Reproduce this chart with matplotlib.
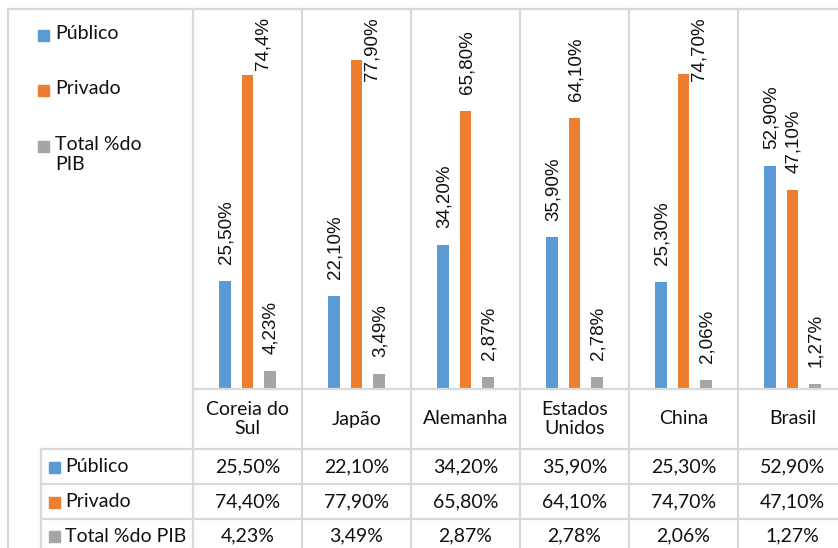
import numpy as np
import matplotlib.pyplot as plt
from matplotlib.patches import Rectangle
from matplotlib.lines import Line2D

paises = ['Coreia do\nSul', 'Japão', 'Alemanha', 'Estados\nUnidos', 'China', 'Brasil']
publico = [25.50, 22.10, 34.20, 35.90, 25.30, 52.90]
privado = [74.40, 77.90, 65.80, 64.10, 74.70, 47.10]
total_pib = [4.23, 3.49, 2.87, 2.78, 2.06, 1.27]

# rotulos como aparecem no grafico (Coreia privado aparece sem o zero)
rot_publico = ['25,50%', '22,10%', '34,20%', '35,90%', '25,30%', '52,90%']
rot_privado = ['74,4%', '77,90%', '65,80%', '64,10%', '74,70%', '47,10%']
rot_total = ['4,23%', '3,49%', '2,87%', '2,78%', '2,06%', '1,27%']

tab_publico = ['25,50%', '22,10%', '34,20%', '35,90%', '25,30%', '52,90%']
tab_privado = ['74,40%', '77,90%', '65,80%', '64,10%', '74,70%', '47,10%']
tab_total = ['4,23%', '3,49%', '2,87%', '2,78%', '2,06%', '1,27%']

series = ['Público', 'Privado', 'Total %do PIB']
cores = ['#5B9BD5', '#ED7D31', '#A5A5A5']

W, H = 838, 548
grid_col = '#D9D9D9'
txt_col = '#111111'
font_tab = 'Lato'
font_lbl = 'Liberation Sans'
fs_tab = 14


def fx(px):
    return px / W


def fy(py):
    return 1 - py / H


fig = plt.figure(figsize=(W / 100, H / 100), dpi=100)
ax = fig.add_axes([fx(193), fy(389), fx(838) - fx(193), fy(9) - fy(389)])

x = np.arange(len(paises))
step = 0.206
bw = 0.11
ymax = 90
ax.set_xlim(-0.5, -0.5 + (838 - 193) / 109)
ax.set_ylim(0, ymax)
ax.axis('off')

for k, (vals, rots) in enumerate([(publico, rot_publico), (privado, rot_privado), (total_pib, rot_total)]):
    pos = x + (k - 1) * step
    ax.bar(pos, vals, bw, color=cores[k], zorder=3)
    for xi, v, r in zip(pos, vals, rots):
        if v + 4 + 15.5 > ymax:
            ax.text(xi + 0.14, ymax - 2, r, rotation=90, ha='center', va='top',
                    fontsize=13.5, family=font_lbl, color=txt_col, zorder=4)
        else:
            ax.text(xi + 0.01, v + 4, r, rotation=90, ha='center', va='bottom',
                    fontsize=13.5, family=font_lbl, color=txt_col, zorder=4)

# linhas de grade verticais (limites de categoria) e tabela
for b in np.arange(len(paises) + 1) - 0.5:
    px = 193 + (b + 0.5) * 109
    fig.add_artist(Line2D([fx(px), fx(px)], [fy(9), fy(548)], color=grid_col, lw=1.6))

# moldura externa
fig.add_artist(Line2D([fx(8), fx(838)], [fy(9), fy(9)], color=grid_col, lw=1.6))
fig.add_artist(Line2D([fx(8), fx(8)], [fy(9), fy(548)], color=grid_col, lw=1.6))

# linhas horizontais da tabela
fig.add_artist(Line2D([fx(193), fx(838)], [fy(389), fy(389)], color=grid_col, lw=1.6))
for py in [449, 484, 519]:
    fig.add_artist(Line2D([fx(41), fx(838)], [fy(py), fy(py)], color=grid_col, lw=1.6))
fig.add_artist(Line2D([fx(41), fx(41)], [fy(449), fy(548)], color=grid_col, lw=1.6))

# rotulos de categoria
for i, p in enumerate(paises):
    cx = 193 + (i + 0.5) * 109
    fig.text(fx(cx), fy(419), p, ha='center', va='center', fontsize=fs_tab,
             family=font_tab, color=txt_col, linespacing=1.15)

# linhas de valores da tabela
row_y = [466.5, 501.5, 536]
for k, vals in enumerate([tab_publico, tab_privado, tab_total]):
    for i, v in enumerate(vals):
        cx = 193 + (i + 0.5) * 109
        fig.text(fx(cx), fy(row_y[k]), v, ha='center', va='center', fontsize=fs_tab,
                 family=font_tab, color=txt_col)
    fig.add_artist(Rectangle((fx(49), fy(row_y[k] + 6)), fx(11), 11 / H,
                             color=cores[k], transform=fig.transFigure))
    fig.text(fx(65), fy(row_y[k]), series[k], ha='left', va='center', fontsize=fs_tab,
             family=font_tab, color=txt_col)

# legenda
leg_y = [35, 90, 146]
leg_txt = ['Público', 'Privado', 'Total %do\nPIB']
for k in range(3):
    fig.add_artist(Rectangle((fx(38), fy(leg_y[k] + 6)), fx(11), 11 / H,
                             color=cores[k], transform=fig.transFigure))
    fig.text(fx(55), fy(leg_y[k] - 10), leg_txt[k], ha='left', va='top', fontsize=fs_tab,
             family=font_tab, color=txt_col, linespacing=1.2)

fig.savefig('out.png', dpi=100, facecolor='white')
